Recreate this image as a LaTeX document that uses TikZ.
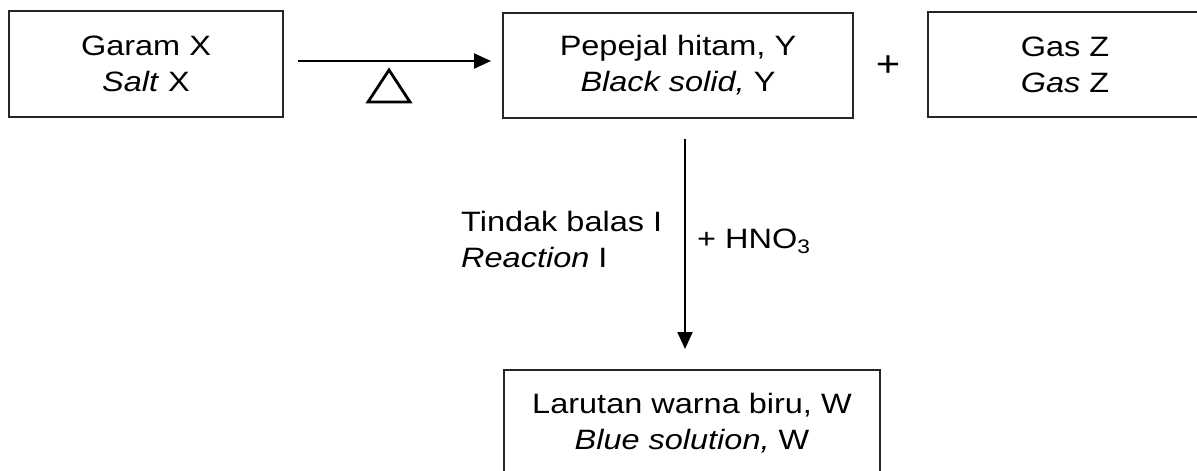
\documentclass[tikz,border=0pt]{standalone}
\usepackage{fontspec}
\setmainfont{Liberation Sans}[FakeStretch=1.16]
\usetikzlibrary{arrows.meta}
\begin{document}
\begin{tikzpicture}[x=1pt,y=-1pt,
  every node/.style={font=\fontsize{28}{36}\selectfont, text=black, inner sep=0pt},
  box/.style={draw=black!85, line width=2pt, align=center},
  arr/.style={line width=2.2pt, -{Triangle[length=17pt,width=15pt]}},
  lbl/.style={align=left, anchor=west}]
\useasboundingbox (0,0) rectangle (1197,471);
\clip (0,0) rectangle (1197,471);
\node[box, minimum width=274pt, minimum height=106pt] (garam) at (146,64) {Garam X\\\textit{Salt} X};
\node[box, minimum width=350pt, minimum height=105pt] (pep) at (678,65.5) {Pepejal hitam, Y\\\textit{Black solid,} Y};
\node[font=\fontsize{36}{40}\selectfont] (plus) at (888,66) {+};
\node[box, minimum width=274pt, minimum height=105pt] (gas) at (1065,64.5) {Gas Z\\\textit{Gas} Z};
\node[box, minimum width=376pt, minimum height=106pt] (lar) at (692,423) {Larutan warna biru, W\\\textit{Blue solution,} W};
\draw[arr, shorten <=14pt, shorten >=11pt] ([yshift=3pt]garam.east) -- ([yshift=3pt]garam.east -| pep.west);
\draw[line width=2.8pt, line join=miter] (368,102) -- (389,70) -- (410,102) -- cycle;
\draw[arr, shorten <=20pt, shorten >=20pt] ([xshift=7pt]pep.south) -- ([xshift=7pt]pep.south |- lar.north);
\node[lbl] (reac) at (461,239) {Tindak balas I\\\textit{Reaction} I};
\node[lbl] (hno) at (697,241) {+ HNO\textsubscript{3}};
\end{tikzpicture}
\end{document}
